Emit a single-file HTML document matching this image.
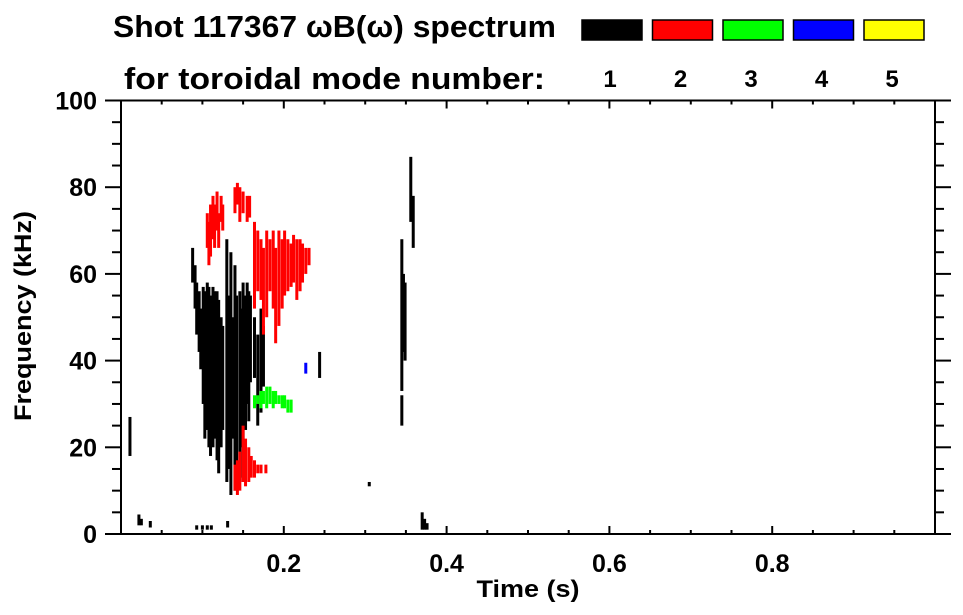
<!DOCTYPE html>
<html><head><meta charset="utf-8"><style>
html,body{margin:0;padding:0;background:#fff;}
svg{display:block;font-family:"Liberation Sans",Arial,sans-serif;font-weight:bold;}
</style></head><body>
<svg id="chart" width="963" height="615" viewBox="0 0 963 615" xmlns="http://www.w3.org/2000/svg">
<text x="113" y="37" font-size="31" textLength="443" lengthAdjust="spacingAndGlyphs">Shot 117367 ωB(ω) spectrum</text>
<text x="124" y="89" font-size="31" textLength="421" lengthAdjust="spacingAndGlyphs">for toroidal mode number:</text>
<g id="legend"></g>
<g id="marks"></g>
<g id="axes"></g>
<text x="528" y="597" font-size="24" text-anchor="middle" textLength="103" lengthAdjust="spacingAndGlyphs">Time (s)</text>
<text transform="translate(31,316) rotate(-90)" font-size="24" text-anchor="middle" textLength="210" lengthAdjust="spacingAndGlyphs">Frequency (kHz)</text>
</svg>
<script>
const modeNumbers = [1, 2, 3, 4, 5];
const modeColors = ["#000000", "#ff0000", "#00ff00", "#0000ff", "#ffff00"];
const xTicks = [0.2, 0.4, 0.6, 0.8];
const yTicks = [0, 20, 40, 60, 80, 100];
// streaks: [time s, freq low kHz, freq high kHz]
const mode1 = [
[0.011,18,27],[0.022,2,4.5],[0.025,2,3.5],[0.036,1.5,3],
[0.088,58,66],[0.091,52,62],[0.093,46,58],[0.096,42,56],[0.098,38,52],
[0.101,30,57],[0.103,22,56],[0.106,24,58],[0.108,20,57],[0.110,18,55],[0.113,20,57],[0.115,22,56],[0.118,17,56],[0.120,14,54],[0.123,20,50],[0.125,24,48],
[0.130,12,68],[0.133,15,55],[0.135,9,65],[0.137,22,50],[0.140,10,62],[0.142,14,55],[0.146,13,56],[0.148,20,52],[0.150,12,58],[0.153,24,55],[0.155,30,58],[0.157,26,56],[0.159,35,55],
[0.164,36,50],[0.168,25,46],[0.172,28,52],[0.175,34,48],
[0.093,1,2],[0.100,1,2],[0.106,1,2],[0.111,1,2],[0.131,1.5,3],
[0.244,36,42],[0.305,11,12],
[0.345,33,68],[0.347,42,60],[0.349,40,58],[0.345,25,32],[0.356,72,87],[0.359,66,78],
[0.370,1,5],[0.373,1,3.5],[0.376,1,2.5]
];
const mode2 = [
[0.106,66,74],[0.108,62,72],[0.110,64,76],[0.113,68,78],[0.115,66,76],[0.118,70,79],[0.120,66,74],[0.123,72,78],[0.125,70,76],
[0.140,74,80],[0.143,76,81],[0.146,72,80],[0.150,74,79],[0.155,72,78],[0.158,73,78],
[0.164,52,72],[0.168,56,70],[0.172,54,68],[0.175,46,66],[0.179,50,70],[0.183,56,68],[0.187,52,70],[0.190,44,66],[0.194,48,70],[0.198,52,68],[0.201,55,70],[0.205,56,68],[0.209,57,67],[0.212,58,69],[0.216,54,68],[0.220,56,68],[0.223,58,67],[0.227,60,66],[0.231,62,66],
[0.140,10,16],[0.143,9,17],[0.146,10,19],[0.150,12,25],[0.153,11,22],[0.157,12,20],[0.160,13,18],[0.164,13,17],[0.168,14,16],[0.172,14,16],[0.178,14,16]
];
const mode3 = [
[0.164,29,32],[0.168,30,32],[0.172,29,33],[0.175,30,33],[0.179,29,34],[0.183,30,34],[0.187,29,33],[0.190,30,33],[0.194,30,32],[0.198,29,32],[0.201,29,32],[0.205,28,31],[0.209,28,31]
];
const mode4 = [[0.227,37,39.5]];
const mode5 = [];

const NS="http://www.w3.org/2000/svg";
const L=121,R=935,T=100.5,B=534;
const xs=t=>L+t*(R-L);
const ys=f=>B-f/100*(B-T);
function mk(tag,parent,attrs){const e=document.createElementNS(NS,tag);for(const k in attrs)e.setAttribute(k,attrs[k]);parent.appendChild(e);return e;}

const lg=document.getElementById('legend');
modeNumbers.forEach((m,i)=>{
  const x=582+i*70.5;
  const r=mk('rect',lg,{x:x,y:20,width:60,height:20,fill:modeColors[i],stroke:'#000','stroke-width':1.5});
  
  
  const t=mk('text',lg,{x:x+28,y:87,'font-size':24,'text-anchor':'middle'});
  t.textContent=m;
  
  
});

const mg=document.getElementById('marks');
[mode1,mode2,mode3,mode4,mode5].forEach((series,si)=>{
  series.forEach(d=>{
    const x0=xs(d[0]),y0=ys(d[2]),y1=ys(d[1]);
    const r=mk('rect',mg,{x:x0-1.5,y:y0,width:3,height:Math.max(1,y1-y0),fill:modeColors[si]});
    
    
  });
});

const ax=document.getElementById('axes');
const st={stroke:'#000','stroke-width':2,fill:'none'};
mk('rect',ax,Object.assign({x:L,y:T,width:R-L,height:B-T},st));
for(let v=0;v<=100.001;v+=5){
  const y=ys(v),major=Math.abs(v%20)<0.01;
  const len=major?16:9;
  mk('line',ax,Object.assign({x1:L-len,x2:L,y1:y,y2:y},st));
  mk('line',ax,Object.assign({x1:R,x2:R+len,y1:y,y2:y},st));
}
for(let v=0;v<=1.0001;v+=0.05){
  const x=xs(v),major=Math.abs((v*10)%2)<0.01||Math.abs((v*10)%2-2)<0.01;
  const len=major?8:4;
  mk('line',ax,Object.assign({x1:x,x2:x,y1:B,y2:B-len},st));
  mk('line',ax,Object.assign({x1:x,x2:x,y1:T,y2:T+len},st));
}
yTicks.forEach(v=>{
  const t=mk('text',ax,{x:97,y:ys(v)+9,'font-size':25,'text-anchor':'end'});
  t.textContent=v;
  
  
});
xTicks.forEach(v=>{
  const t=mk('text',ax,{x:xs(v),y:572,'font-size':25,'text-anchor':'middle'});
  t.textContent=v.toFixed(1);
  
  
});
</script>
</body></html>
